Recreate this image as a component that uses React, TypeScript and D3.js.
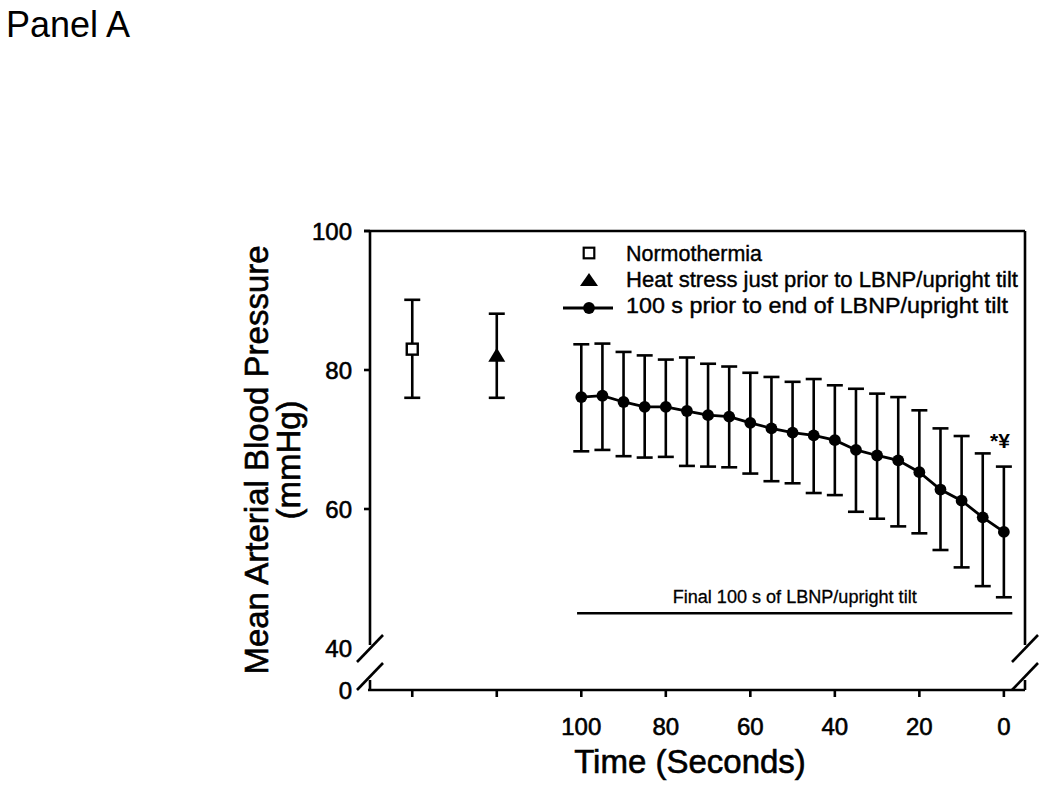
import React from "react";
import * as d3 from "d3";

// ---- Data ----
const times = [100, 95, 90, 85, 80, 75, 70, 65, 60, 55, 50, 45, 40, 35, 30, 25, 20, 15, 10, 5, 0];
const meanMAP = [76.1, 76.3, 75.4, 74.7, 74.7, 74.1, 73.5, 73.3, 72.4, 71.6, 71.0, 70.6, 69.9, 68.5, 67.7, 67.0, 65.3, 62.8, 61.2, 58.8, 56.7];
const upperMAP = [83.7, 83.8, 82.6, 82.1, 81.5, 81.8, 80.9, 80.5, 79.6, 79.0, 78.3, 78.7, 77.8, 77.3, 76.6, 76.1, 74.2, 71.6, 70.5, 68.0, 66.1];
const lowerMAP = [68.3, 68.5, 67.6, 67.4, 67.5, 66.2, 66.1, 66.0, 65.1, 64.0, 63.7, 62.3, 62.0, 59.6, 58.6, 57.5, 56.5, 54.1, 51.6, 48.9, 47.3];

// Baseline conditions placed at extra x slots left of the time axis
const normoSlot = 140;
const heatSlot = 120;
const normothermia = { mean: 83.0, upper: 90.1, lower: 76.0 };
const heatStress = { mean: 82.2, upper: 88.1, lower: 76.0 };

const xTickValues = [140, 120, 100, 80, 60, 40, 20, 0];
const xTickLabels = ["", "", "100", "80", "60", "40", "20", "0"];
const yTickValues = [100, 80, 60, 40];
const finalPeriod = { from: 101, to: -2, level: 45 };

const legendLabels = [
  "Normothermia",
  "Heat stress just prior to LBNP/upright tilt",
  "100 s prior to end of LBNP/upright tilt",
];

const FONT = "'Liberation Sans', Arial, Helvetica, sans-serif";

export default function App() {
  const W = 1050;
  const H = 790;
  const left = 370, right = 1025, top = 231, bottom = 690;

  const x = d3.scaleLinear().domain([150, -5]).range([left, right]);
  const y = d3.scaleLinear().domain([40, 100]).range([648, top]);
  const yLow = d3.scaleLinear().domain([0, 40]).range([bottom, 648]);

  const y40 = y(40);
  const capW = 8;
  const sw = 2.6;

  const line = d3
    .line<number>()
    .x((_, i) => x(times[i]))
    .y((d) => y(d));

  const errBar = (cx: number, lo: number, hi: number, key: string) => (
    <g key={key} stroke="#000" strokeWidth={sw}>
      <line x1={cx} x2={cx} y1={y(lo)} y2={y(hi)} />
      <line x1={cx - capW} x2={cx + capW} y1={y(lo)} y2={y(lo)} />
      <line x1={cx - capW} x2={cx + capW} y1={y(hi)} y2={y(hi)} />
    </g>
  );

  const tri = (cx: number, cy: number, w: number, h: number) =>
    `M${cx},${cy - h / 2} L${cx + w / 2},${cy + h / 2} L${cx - w / 2},${cy + h / 2} Z`;

  const breakMarks = (ax: number, key: string) => (
    <g key={key} stroke="#000" strokeWidth={sw} fill="none">
      <line x1={ax} x2={ax} y1={top} y2={y40 - 3} />
      <line x1={ax} x2={ax} y1={y40 + 32} y2={bottom} />
      <line x1={ax - 13} x2={ax + 13} y1={y40 + 14} y2={y40 - 13} />
      <line x1={ax - 13} x2={ax + 13} y1={y40 + 42} y2={y40 + 15} />
    </g>
  );

  const legX = 589;
  const legTextX = 626;
  const legRows = [261, 287, 313];
  const legLens = [136, 392, 382];

  const heavy = { stroke: "#000", strokeWidth: 0.6 };

  return (
    <svg
      width={W}
      height={H}
      style={{ position: "absolute", left: 0, top: 0, background: "#fff" }}
      fontFamily={FONT}
    >
      <rect x={0} y={0} width={W} height={H} fill="#fff" />
      <text x={6} y={37} fontSize={36} fill="#000">Panel A</text>

      {/* frame */}
      <line x1={left - 6} x2={right} y1={top} y2={top} stroke="#000" strokeWidth={sw} />
      <line x1={left - 2} x2={right} y1={bottom} y2={bottom} stroke="#000" strokeWidth={sw} />
      {breakMarks(left, "bl")}
      {breakMarks(right, "br")}

      {/* y ticks */}
      {yTickValues.map((v) => (
        <g key={"yt" + v}>
          {v > 40 && (
            <line x1={left - 6} x2={left} y1={y(v)} y2={y(v)} stroke="#000" strokeWidth={sw} />
          )}
          <text x={352} y={y(v) + 8.5} fontSize={24} textAnchor="end" fill="#000" {...heavy}>
            {v}
          </text>
        </g>
      ))}
      <text x={352} y={yLow(0) + 8.5} fontSize={24} textAnchor="end" fill="#000" {...heavy}>0</text>

      {/* x ticks */}
      {xTickValues.map((t, i) => (
        <g key={"xt" + t}>
          <line x1={x(t)} x2={x(t)} y1={bottom} y2={bottom + 7} stroke="#000" strokeWidth={sw} />
          <text x={x(t)} y={735} fontSize={24} textAnchor="middle" fill="#000" {...heavy}>
            {xTickLabels[i]}
          </text>
        </g>
      ))}

      {/* axis titles */}
      <text x={690} y={773} fontSize={33} textAnchor="middle" fill="#000" {...heavy}>
        Time (Seconds)
      </text>
      <text
        transform={`translate(268,460) rotate(-90)`}
        fontSize={33}
        textAnchor="middle"
        fill="#000"
        {...heavy}
      >
        Mean Arterial Blood Pressure
      </text>
      <text
        transform={`translate(300,460) rotate(-90)`}
        fontSize={33}
        textAnchor="middle"
        fill="#000"
        {...heavy}
      >
        (mmHg)
      </text>

      {/* baseline conditions */}
      {errBar(x(normoSlot), normothermia.lower, normothermia.upper, "n")}
      <rect
        x={x(normoSlot) - 5.5}
        y={y(normothermia.mean) - 5.5}
        width={11}
        height={11}
        fill="#fff"
        stroke="#000"
        strokeWidth={2.4}
      />
      {errBar(x(heatSlot), heatStress.lower, heatStress.upper, "h")}
      <path d={tri(x(heatSlot), y(heatStress.mean), 17, 14)} fill="#000" />

      {/* time series */}
      {times.map((t, i) => errBar(x(t), lowerMAP[i], upperMAP[i], "e" + i))}
      <path d={line(meanMAP) || ""} fill="none" stroke="#000" strokeWidth={2.8} />
      {times.map((t, i) => (
        <circle key={"c" + i} cx={x(t)} cy={y(meanMAP[i])} r={5.9} fill="#000" />
      ))}

      <text x={990} y={448} fontSize={21} fontWeight="bold" fill="#000">*¥</text>

      {/* final period bar */}
      <line
        x1={x(finalPeriod.from)}
        x2={x(finalPeriod.to)}
        y1={y(finalPeriod.level)}
        y2={y(finalPeriod.level)}
        stroke="#000"
        strokeWidth={2.4}
      />
      <text
        x={(x(finalPeriod.from) + x(finalPeriod.to)) / 2}
        y={602.5}
        fontSize={18}
        textAnchor="middle"
        textLength={244}
        lengthAdjust="spacingAndGlyphs"
        fill="#000"
        stroke="#000"
        strokeWidth={0.3}
      >
        Final 100 s of LBNP/upright tilt
      </text>

      {/* legend */}
      <rect x={legX - 5.3} y={legRows[0] - 8 - 5.3} width={10.6} height={10.6} fill="#fff" stroke="#000" strokeWidth={2.2} />
      <path d={tri(legX, legRows[1] - 7.5, 18, 13)} fill="#000" />
      <line x1={563} x2={613} y1={legRows[2] - 5} y2={legRows[2] - 5} stroke="#000" strokeWidth={2.8} />
      <circle cx={legX} cy={legRows[2] - 5} r={5.9} fill="#000" />
      {legendLabels.map((lab, i) => (
        <text
          key={lab}
          x={legTextX}
          y={legRows[i]}
          fontSize={22}
          textLength={legLens[i]}
          lengthAdjust="spacingAndGlyphs"
          fill="#000"
          stroke="#000"
          strokeWidth={0.4}
        >
          {lab}
        </text>
      ))}
    </svg>
  );
}
